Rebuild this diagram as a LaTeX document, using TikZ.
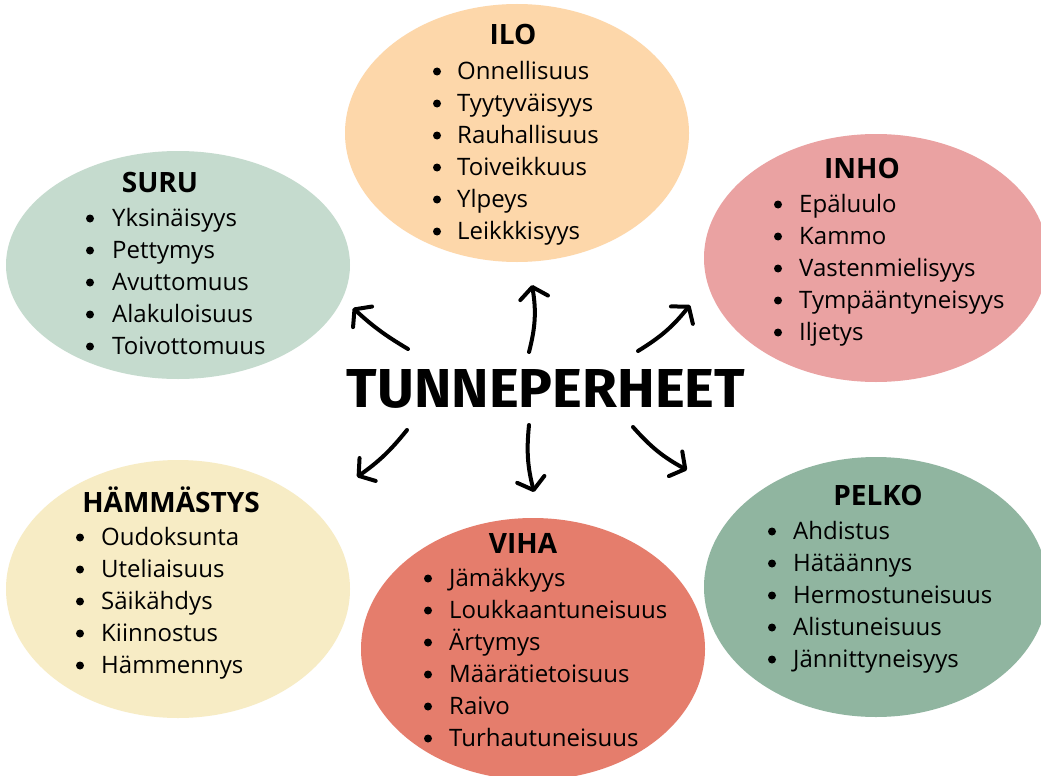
\documentclass[tikz,border=0pt]{standalone}
\usepackage{fontspec}
\usepackage{graphicx}
\setmainfont{Open Sans}
\newfontfamily\bannerfont{Fira Sans}
\usetikzlibrary{shapes.geometric,arrows.meta}

\definecolor{joy}{HTML}{FDD7AA}
\definecolor{sorrow}{HTML}{C5DBCE}
\definecolor{disgust}{HTML}{EAA2A2}
\definecolor{wonder}{HTML}{F7ECC5}
\definecolor{fear}{HTML}{90B5A0}
\definecolor{anger}{HTML}{E57D6C}

% #1 name prefix, #2 bullet x, #3 text x, #4 first baseline, #5 entries
\newcommand\emolist[5]{%
  \foreach \w [count=\k] in {#5} {
    \node[dotmark] (#1d\k) at (#2, {#4+32*(\k-1)-7.5}) {};
    \node[entry] (#1t\k) at (#3, {#4+32*(\k-1)}) {\w};
  }%
}

\begin{document}
\begin{tikzpicture}[x=1pt,y=-1pt,
  blob/.style={ellipse, inner sep=0pt, minimum width=344pt},
  heading/.style={anchor=base, inner sep=0pt, font=\bfseries\fontsize{28}{32}\selectfont},
  entry/.style={anchor=base west, inner sep=0pt, font=\fontsize{24}{32}\selectfont},
  dotmark/.style={circle, fill=black, inner sep=0pt, minimum size=8pt},
  link/.style={line width=4pt, line cap=round, line join=round,
    -{Straight Barb[round,length=11pt,width=28pt]}}]

\useasboundingbox (0,0) rectangle (1041,776);
\fill[white] (0,0) rectangle (1041,776);
\clip (0,0) rectangle (1041,776);

% emotion families
\node[blob, fill=joy,     minimum height=258pt] (ilo)  at (517,133) {};
\node[blob, fill=sorrow,  minimum height=228pt] (suru) at (178,265) {};
\node[blob, fill=disgust, minimum height=248pt] (inho) at (876,258) {};
\node[blob, fill=wonder,  minimum height=258pt] (hamm) at (178,589) {};
\node[blob, fill=fear,    minimum height=260pt] (pelko) at (876,587) {};
\node[blob, fill=anger,   minimum height=262pt] (viha) at (533,649) {};

% headings
\node[heading] (iloh)   at (513,45)  {ILO};
\node[heading] (suruh)  at (160,192) {SURU};
\node[heading] (inhoh)  at (862,178) {INHO};
\node[heading] (hammh)  at (171,512) {HÄMMÄSTYS};
\node[heading] (pelkoh) at (878,505) {PELKO};
\node[heading] (vihah)  at (523,553) {VIHA};

% lists
\emolist{ilo}{437}{457}{79}{Onnellisuus,Tyytyväisyys,Rauhallisuus,Toiveikkuus,Ylpeys,Leikkkisyys}
\emolist{suru}{90}{112}{226}{Yksinäisyys,Pettymys,Avuttomuus,Alakuloisuus,Toivottomuus}
\emolist{inho}{778}{799}{212}{Epäluulo,Kammo,Vastenmielisyys,Tympääntyneisyys,Iljetys}
\emolist{hamm}{80}{101}{545}{Oudoksunta,Uteliaisuus,Säikähdys,Kiinnostus,Hämmennys}
\emolist{pelko}{772}{793}{539}{Ahdistus,Hätäännys,Hermostuneisuus,Alistuneisuus,Jännittyneisyys}
\emolist{viha}{428}{449}{586}{Jämäkkyys,Loukkaantuneisuus,Ärtymys,Määrätietoisuus,Raivo,Turhautuneisuus}

% central word
\node[inner sep=0pt, anchor=base] (banner) at (546,407)
  {\resizebox{398pt}{38pt}{\bannerfont\bfseries TUNNEPERHEET}};

% arrow ends
\coordinate (nwA) at (408,349); \coordinate (nwB) at (353,308);
\coordinate (nA)  at (529,352); \coordinate (nB)  at (532,285);
\coordinate (neA) at (638,351); \coordinate (neB) at (690,305);
\coordinate (swA) at (407,430); \coordinate (swB) at (357,477);
\coordinate (sA)  at (529,425); \coordinate (sB)  at (534,492);
\coordinate (seA) at (633,427); \coordinate (seB) at (687,470);

\draw[link] (nwA) to[bend left=6]  (nwB);
\draw[link] (nA)  to[bend right=12] (nB);
\draw[link] (neA) to[bend right=10] (neB);
\draw[link] (swA) to[bend left=8]  (swB);
\draw[link] (sA)  to[bend right=10] (sB);
\draw[link] (seA) to[bend right=10] (seB);
\end{tikzpicture}
\end{document}
